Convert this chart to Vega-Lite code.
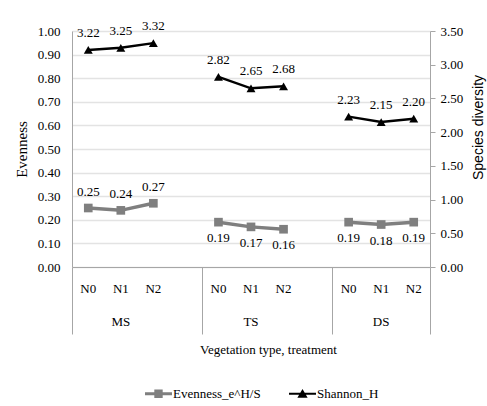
{
  "$schema": "https://vega.github.io/schema/vega-lite/v6.json",
  "width": 358,
  "height": 236,
  "autosize": "none",
  "padding": {"left": 72, "top": 31, "right": 57, "bottom": 139},
  "background": "white",
  "config": {
    "font": "Liberation Serif, Times New Roman, serif",
    "view": {"stroke": null},
    "axis": {
      "labelFont": "Liberation Serif, Times New Roman, serif",
      "labelFontSize": 13,
      "labelColor": "#000000",
      "domainColor": "#A6A6A6",
      "tickColor": "#A6A6A6",
      "titleFont": "Liberation Serif, Times New Roman, serif",
      "titleFontSize": 13,
      "titleFontWeight": "normal",
      "titleColor": "#000000"
    },
    "legend": {"labelFont": "Liberation Serif, Times New Roman, serif"},
    "text": {"font": "Liberation Serif, Times New Roman, serif", "fontSize": 13, "color": "#000000"}
  },
  "data": {
    "values": [
      {"cat": "MS-N0", "group": "MS", "trt": "N0", "evenness": 0.25, "shannon": 3.22},
      {"cat": "MS-N1", "group": "MS", "trt": "N1", "evenness": 0.24, "shannon": 3.25},
      {"cat": "MS-N2", "group": "MS", "trt": "N2", "evenness": 0.27, "shannon": 3.32},
      {"cat": "TS-N0", "group": "TS", "trt": "N0", "evenness": 0.19, "shannon": 2.82},
      {"cat": "TS-N1", "group": "TS", "trt": "N1", "evenness": 0.17, "shannon": 2.65},
      {"cat": "TS-N2", "group": "TS", "trt": "N2", "evenness": 0.16, "shannon": 2.68},
      {"cat": "DS-N0", "group": "DS", "trt": "N0", "evenness": 0.19, "shannon": 2.23},
      {"cat": "DS-N1", "group": "DS", "trt": "N1", "evenness": 0.18, "shannon": 2.15},
      {"cat": "DS-N2", "group": "DS", "trt": "N2", "evenness": 0.19, "shannon": 2.20}
    ]
  },
  "layer": [
    {
      "encoding": {
        "x": {
          "field": "cat", "type": "nominal", "sort": null,
          "scale": {"type": "band", "paddingInner": 0, "paddingOuter": 0,
            "domain": ["MS-N0","MS-N1","MS-N2","MS-gap","TS-N0","TS-N1","TS-N2","TS-gap","DS-N0","DS-N1","DS-N2"]},
          "axis": {
            "orient": "bottom",
            "values": ["MS-N0","MS-N1","MS-N2","TS-N0","TS-N1","TS-N2","DS-N0","DS-N1","DS-N2"],
            "labelExpr": "datum.value === 'DS-N1' ? ['N1', 'DS'] : split(datum.value, '-')[1]",
            "labelAngle": 0,
            "labelPadding": 15,
            "labelLineHeight": 33,
            "labelOverlap": false,
            "labelBound": false,
            "ticks": false,
            "domain": true,
            "grid": false,
            "title": "Vegetation type, treatment",
            "titleY": 76,
            "titleX": 196
          }
        },
        "y": {
          "field": "evenness", "type": "quantitative",
          "scale": {"domain": [0, 1], "nice": false, "zero": true},
          "axis": {
            "orient": "left",
            "values": [0, 0.1, 0.2, 0.3, 0.4, 0.5, 0.6, 0.7, 0.8, 0.9, 1.0],
            "format": ".2f",
            "ticks": false,
            "labelPadding": 12,
            "grid": true,
            "gridColor": "#E3E3E3",
            "gridWidth": 1.5,
            "domain": true,
            "title": "Evenness",
            "titleFontSize": 15,
            "titlePadding": 8
          }
        }
      },
      "layer": [
        {
          "mark": {"type": "line", "strokeWidth": 3.5},
          "encoding": {
            "detail": {"field": "group"},
            "color": {
              "datum": "Evenness_e^H/S", "type": "nominal",
              "scale": {"domain": ["Evenness_e^H/S", "Shannon_H"], "range": ["#7F7F7F", "#000000"]},
              "legend": {
                "orient": "none", "legendX": 73, "legendY": 349,
                "direction": "horizontal", "title": null,
                "symbolSize": 729, "labelFontSize": 13,
                "labelColor": "#000000", "labelOffset": 1, "columnPadding": 28, "padding": 0,
                "symbolOpacity": 1,
                "encoding": {
                  "symbols": {
                    "shape": {"condition": {"test": "datum.value === 'Shannon_H'", "value": "M-1,-0.075H1V0.075H-1Z M0,-0.36L0.38,0.3H-0.38Z"}, "value": "M-1,-0.12H1V0.12H-1Z M-0.31,-0.31H0.31V0.31H-0.31Z"},
                    "fill": {"condition": {"test": "datum.value === 'Shannon_H'", "value": "#000000"}, "value": "#7F7F7F"},
                    "fillOpacity": {"value": 1},
                    "stroke": {"value": "transparent"},
                    "strokeWidth": {"value": 0},
                    "opacity": {"value": 1}
                  }
                }
              }
            }
          }
        },
        {
          "mark": {"type": "point", "shape": "square", "filled": true, "size": 75, "color": "#7F7F7F", "opacity": 1}
        },
        {
          "transform": [{"filter": "datum.group === 'MS'"}],
          "mark": {"type": "text", "dy": -16, "color": "#000000", "font": "Liberation Serif, Times New Roman, serif", "fontSize": 13},
          "encoding": {"text": {"field": "evenness", "type": "quantitative", "format": ".2f"}}
        },
        {
          "transform": [{"filter": "datum.group !== 'MS'"}],
          "mark": {"type": "text", "dy": 16, "color": "#000000", "font": "Liberation Serif, Times New Roman, serif", "fontSize": 13},
          "encoding": {"text": {"field": "evenness", "type": "quantitative", "format": ".2f"}}
        }
      ]
    },
    {
      "encoding": {
        "x": {
          "field": "cat", "type": "nominal", "sort": null,
          "scale": {"type": "band", "paddingInner": 0, "paddingOuter": 0,
            "domain": ["MS-N0","MS-N1","MS-N2","MS-gap","TS-N0","TS-N1","TS-N2","TS-gap","DS-N0","DS-N1","DS-N2"]},
          "axis": {
            "orient": "bottom",
            "values": ["MS-N0", "TS-N0", "DS-N0"],
            "bandPosition": 0,
            "labels": false,
            "ticks": true,
            "tickSize": 67,
            "tickWidth": 1,
            "domain": false,
            "grid": false,
            "title": null
          }
        },
        "y": {
          "field": "shannon", "type": "quantitative",
          "scale": {"domain": [0, 3.5], "nice": false, "zero": true},
          "axis": {
            "orient": "right",
            "values": [0, 0.5, 1, 1.5, 2, 2.5, 3, 3.5],
            "format": ".2f",
            "ticks": true,
            "tickSize": 5,
            "labelPadding": 5,
            "grid": false,
            "domain": true,
            "title": "Species diversity",
            "titleFont": "Liberation Sans, Arial, sans-serif",
            "titleFontSize": 14,
            "titleAngle": 270,
            "titlePadding": 23,
            "titleY": 96
          }
        }
      },
      "layer": [
        {
          "mark": {"type": "line", "strokeWidth": 2.5},
          "encoding": {
            "detail": {"field": "group"},
            "color": {"datum": "Shannon_H", "type": "nominal"}
          }
        },
        {
          "mark": {"type": "point", "shape": "triangle-up", "filled": true, "size": 80, "color": "#000000", "opacity": 1}
        }
      ]
    },
    {
      "mark": {"type": "text", "dy": -17, "color": "#000000", "font": "Liberation Serif, Times New Roman, serif", "fontSize": 13},
      "encoding": {
        "x": {
          "field": "cat", "type": "nominal", "sort": null,
          "scale": {"type": "band", "paddingInner": 0, "paddingOuter": 0,
            "domain": ["MS-N0","MS-N1","MS-N2","MS-gap","TS-N0","TS-N1","TS-N2","TS-gap","DS-N0","DS-N1","DS-N2"]},
          "axis": {
            "orient": "bottom",
            "values": ["MS-N1", "TS-N1", "DS-N2"],
            "bandPosition": 1,
            "labelExpr": "datum.value === 'MS-N1' ? 'MS' : (datum.value === 'TS-N1' ? 'TS' : '')",
            "labelAngle": 0,
            "labelPadding": -19,
            "labelOverlap": false,
            "labelBound": false,
            "ticks": true,
            "tickSize": 67,
            "tickWidth": 1,
            "tickOpacity": {"condition": {"test": "datum.value === 'DS-N2'", "value": 1}, "value": 0},
            "domain": false,
            "grid": false,
            "title": null
          }
        },
        "y": {
          "field": "shannon", "type": "quantitative",
          "scale": {"domain": [0, 3.5], "nice": false, "zero": true},
          "axis": null
        },
        "text": {"field": "shannon", "type": "quantitative", "format": ".2f"}
      }
    }
  ],
  "resolve": {
    "scale": {"y": "independent"},
    "axis": {"x": "independent", "y": "independent"}
  }
}
